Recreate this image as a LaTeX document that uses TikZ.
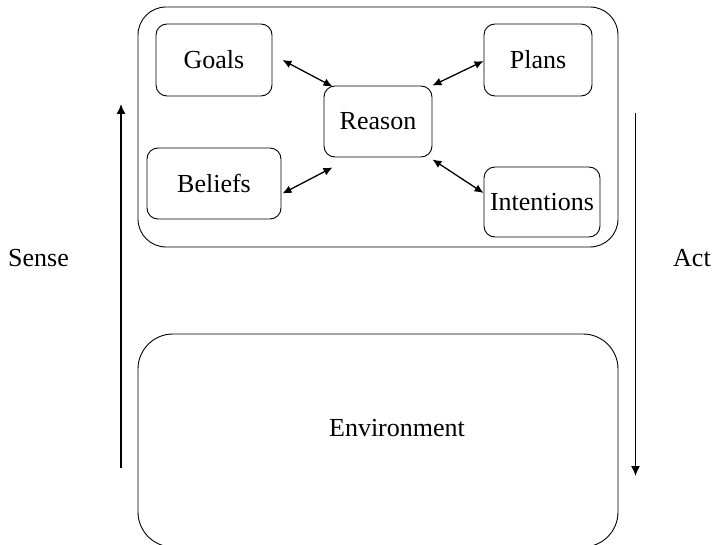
\documentclass[tikz,border=0pt]{standalone}
\usepackage{fontspec}
\setmainfont{Liberation Serif}
\usetikzlibrary{arrows.meta}
\begin{document}
\begin{tikzpicture}[x=1pt,y=-1pt,
  every node/.style={font=\fontsize{26}{31}\selectfont, inner sep=0pt},
  inner/.style={draw, line width=0.9pt, rounded corners=11pt},
  frame/.style={draw, line width=0.9pt},
  link/.style={line width=1.3pt, {Latex[length=9pt,width=8pt]}-{Latex[length=9pt,width=8pt]}},
  flow/.style={line width=1.4pt, -{Latex[length=10pt,width=9pt]}}]
  \useasboundingbox (0,0) rectangle (712,545);
  \clip (0,0) rectangle (712,545);

  % agent frame and environment
  \draw[frame, rounded corners=28pt] (138,7) rectangle (618,247);
  \draw[frame, rounded corners=35pt] (138,334) rectangle (618,547);
  \node (env) at (397,428) {Environment};

  % mental components
  \node[inner, minimum width=116pt, minimum height=72pt] (goals) at (214,60) {Goals};
  \node[inner, minimum width=108pt, minimum height=72pt] (plans) at (538,60) {Plans};
  \node[inner, minimum width=108pt, minimum height=71pt] (reason) at (378,121.5) {Reason};
  \node[inner, minimum width=134pt, minimum height=71pt] (beliefs) at (214,183.5) {Beliefs};
  \node[inner, minimum width=116pt, minimum height=70pt] (intent) at (542,202) {Intentions};

  % links to reasoning
  \draw[link] ([xshift=10pt]goals.east) -- ([xshift=9pt,yshift=-1pt]reason.north west);
  \draw[link] ([yshift=-1pt]plans.west) -- (reason.north east);
  \draw[link] ([xshift=1pt,yshift=-10pt]beliefs.east) -- ([xshift=9pt,yshift=-10pt]reason.south west);
  \draw[link] ([yshift=-2pt]reason.south east) -- ([yshift=9pt]intent.west);

  % sense / act cycle
  \coordinate (sensefoot) at (121,468);
  \coordinate (sensehead) at (121,104);
  \coordinate (acttop) at (635.5,113);
  \coordinate (actfoot) at (635.5,476);
  \draw[flow] (sensefoot) -- (sensehead);
  \draw[flow] (acttop) -- (actfoot);
  \node[anchor=base west] (sense) at (8,267) {Sense};
  \node[anchor=base west] (act) at (673,267) {Act};
\end{tikzpicture}
\end{document}
